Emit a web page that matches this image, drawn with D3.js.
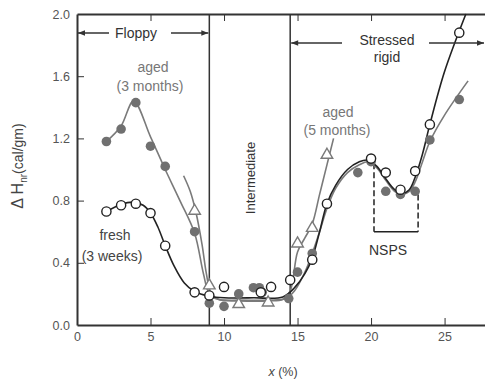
<!DOCTYPE html>
<html>
<head>
<meta charset="utf-8">
<script src="https://cdn.jsdelivr.net/npm/d3@7"></script>
<style>
  body { margin: 0; background: #fff; }
  svg { display: block; font-family: "Liberation Sans", Arial, sans-serif; }
  .axis path, .axis line { stroke: #333; }
  .axis text { fill: #555; font-size: 12.5px; font-family: "Liberation Sans", Arial, sans-serif; }
</style>
</head>
<body>
<svg width="485" height="381"></svg>
<script>
// measured points, [x %, dH cal/gm]
var freshPts = [[2,.73],[3,.77],[4,.78],[5,.72],[6,.51],[8,.21],[9,.19],[10,.245],[12.5,.21],[13.2,.245],
                [14.5,.29],[16,.42],[17,.78],[20,1.07],[21,.98],[22,.87],[23,.99],[24,1.29],[26,1.88]];
var aged3Pts = [[2,1.18],[3,1.26],[4,1.43],[5,1.15],[6,1.02],[8,.6],[9,.14],[10,.12],[11,.2],[12,.24],
                [12.4,.24],[12.6,.21],[14.4,.17],[15,.34],[16,.46],[17,.78],[19.1,.98],[20,1.05],[21,.86],
                [22,.84],[23,.86],[24,1.19],[26,1.45]];
var aged5Pts = [[8,.74],[9,.26],[11,.14],[13,.15],[15,.53],[16,.63],[17,1.1]];

// fitted guide curves
var freshCurve = [[2,.73],[3,.775],[3.8,.79],[4.5,.77],[5,.72],[5.5,.63],[6,.51],[6.6,.38],[7.3,.27],[8,.215],
                  [9,.185],[10,.175],[12,.175],[14,.18],[14.8,.24],[15.5,.33],[16,.43],[16.5,.6],[17,.78],
                  [17.6,.9],[18.4,1.0],[19.2,1.05],[19.8,1.06],[20.4,1.02],[21,.94],[21.6,.87],[22.1,.845],
                  [22.6,.87],[23,.95],[23.5,1.1],[24,1.29],[25,1.63],[26.45,2.0]];
var aged3Curve = [[2,1.18],[3,1.28],[3.85,1.44],[5,1.21],[6,1.0],[7,.8],[8,.59],[8.6,.33],[9,.2],[9.6,.165],
                  [11,.16],[13,.16],[14.2,.17],[14.8,.22],[15.5,.34],[16,.46],[16.5,.6],[17,.75],[17.6,.88],
                  [18.4,.98],[19.2,1.03],[19.8,1.05],[20.4,1.01],[21,.93],[21.6,.86],[22.1,.84],[22.6,.86],
                  [23,.92],[23.5,1.05],[24,1.18],[25,1.35],[26.6,1.57]];
var aged5Curve = [[7.25,.96],[7.7,.86],[8.1,.72],[8.5,.52],[8.8,.33],[9.1,.21],[9.6,.165],[11,.155],[13,.155],
                  [14,.165],[14.5,.22],[15,.47],[15.5,.56],[16,.65],[16.5,.84],[17,1.03],[17.45,1.2]];

var xTicks = [0, 5, 10, 15, 20, 25];
var yTicks = [0, 0.4, 0.8, 1.2, 1.6, 2.0];
var phaseBounds = [9, 14.5];   // floppy | intermediate | stressed rigid
var nspsBox = [20.2, 23.2];

var svg = d3.select('svg');
var black = '#222', gray = '#7a7a7a';

var xScale = d3.scaleLinear().domain([0, 27.75]).range([77, 485]);
var yScale = d3.scaleLinear().domain([0, 2]).range([325, 14]);

var line = d3.line()
    .x(d => xScale(d[0]))
    .y(d => yScale(d[1]))
    .curve(d3.curveCatmullRom.alpha(0.5));

// arrowhead marker
svg.append('defs').append('marker')
    .attr('id', 'arrow')
    .attr('viewBox', '0 0 10 10')
    .attr('refX', 10).attr('refY', 5)
    .attr('markerWidth', 12).attr('markerHeight', 7)
    .attr('markerUnits', 'userSpaceOnUse')
    .attr('orient', 'auto-start-reverse')
    .append('path')
    .attr('d', 'M0,1 L10,5 L0,9 z')
    .attr('fill', '#333');

// axes
svg.append('g').classed('axis', true)
    .attr('transform', `translate(0,${yScale(0)})`)
    .call(d3.axisBottom(xScale).tickValues(xTicks).tickSizeInner(-7).tickSizeOuter(0).tickPadding(7))
    .call(g => g.select('.domain').attr('stroke-width', 2));

svg.append('g').classed('axis', true)
    .attr('transform', `translate(0,${yScale(2)})`)
    .call(d3.axisTop(xScale).tickValues(xTicks.slice(1)).tickSizeInner(-7).tickSizeOuter(0).tickFormat(''))
    .call(g => g.select('.domain').attr('stroke-width', 2));

svg.append('g').classed('axis', true)
    .attr('transform', `translate(${xScale(0)},0)`)
    .call(d3.axisLeft(yScale).tickValues(yTicks).tickSizeInner(-7).tickSizeOuter(0).tickPadding(7).tickFormat(d3.format('.1f')))
    .call(g => g.select('.domain').attr('stroke-width', 2))
    .call(g => g.selectAll('.tick').filter(d => d == 0 || d == 2).select('line').remove());

// phase boundaries
phaseBounds.forEach(function(b){
    svg.append('line')
        .attr('x1', xScale(b)).attr('x2', xScale(b))
        .attr('y1', yScale(0)).attr('y2', yScale(2))
        .attr('stroke', '#333').attr('stroke-width', 1.5);
});

// NSPS bracket
var nspsG = svg.append('g').attr('stroke', '#222').attr('stroke-width', 1.5).attr('fill', 'none');
nspsG.append('line')
    .attr('x1', xScale(nspsBox[0])).attr('x2', xScale(nspsBox[0]))
    .attr('y1', yScale(1.04)).attr('y2', yScale(0.6))
    .attr('stroke-dasharray', '6,3');
nspsG.append('line')
    .attr('x1', xScale(nspsBox[1])).attr('x2', xScale(nspsBox[1]))
    .attr('y1', yScale(0.84)).attr('y2', yScale(0.6))
    .attr('stroke-dasharray', '6,3');
nspsG.append('line')
    .attr('x1', xScale(nspsBox[0])).attr('x2', xScale(nspsBox[1]))
    .attr('y1', yScale(0.6)).attr('y2', yScale(0.6));

// curves
[[aged3Curve, gray], [aged5Curve, gray], [freshCurve, black]].forEach(function(c){
    svg.append('path')
        .attr('d', line(c[0]))
        .attr('fill', 'none')
        .attr('stroke', c[1])
        .attr('stroke-width', 1.6);
});

// markers
var tri = d3.symbol().type(d3.symbolTriangle).size(58);
svg.append('g').selectAll('path').data(aged5Pts).join('path')
    .attr('d', tri)
    .attr('transform', d => `translate(${xScale(d[0])},${yScale(d[1]) + 1})`)
    .attr('fill', '#fff').attr('stroke', gray).attr('stroke-width', 1.4);

svg.append('g').selectAll('circle').data(aged3Pts).join('circle')
    .attr('cx', d => xScale(d[0])).attr('cy', d => yScale(d[1]))
    .attr('r', 4.8).attr('fill', '#707070');

svg.append('g').selectAll('circle').data(freshPts).join('circle')
    .attr('cx', d => xScale(d[0])).attr('cy', d => yScale(d[1]))
    .attr('r', 4.6).attr('fill', '#fff').attr('stroke', black).attr('stroke-width', 1.4);

// region arrows
function arrowSeg(x1, x2, y){
    svg.append('line')
        .attr('x1', x1).attr('x2', x2).attr('y1', y).attr('y2', y)
        .attr('stroke', '#333').attr('stroke-width', 1.5)
        .attr('marker-end', 'url(#arrow)');
}
arrowSeg(109, xScale(0) + 1, 33);
arrowSeg(171, xScale(phaseBounds[0]) - 1, 33);
arrowSeg(342, xScale(phaseBounds[1]) + 1, 43);
arrowSeg(429, 484, 43);

function label(txt, x, y, color, size){
    return svg.append('text')
        .attr('x', x).attr('y', y)
        .attr('text-anchor', 'middle')
        .attr('fill', color)
        .style('font-size', size + 'px')
        .text(txt);
}
label('Floppy', 136, 38, '#333', 14);
label('Stressed', 387, 45, '#333', 14);
label('rigid', 387, 62, '#333', 14);
label('aged', 153, 72, '#777', 14);
label('(3 months)', 150, 91, '#777', 14);
label('fresh', 115, 240, '#444', 14);
label('(3 weeks)', 112, 261, '#444', 14);
label('aged', 338, 117, '#777', 14);
label('(5 months)', 337, 135, '#777', 14);
label('NSPS', 388, 255, '#333', 14);

svg.append('text')
    .attr('transform', 'translate(255,178) rotate(-90)')
    .attr('text-anchor', 'middle')
    .attr('fill', '#333')
    .style('font-size', '13px')
    .text('Intermediate');

// axis titles
var yLab = svg.append('text')
    .attr('transform', 'translate(23,166) rotate(-90)')
    .attr('text-anchor', 'middle')
    .attr('fill', '#444');
yLab.append('tspan').style('font-size', '16px').text('Δ H');
yLab.append('tspan').style('font-size', '10px').attr('dy', 4).text('nr');
yLab.append('tspan').style('font-size', '14px').attr('dy', -4).text('(cal/gm)');

var xLab = svg.append('text')
    .attr('x', 283).attr('y', 376)
    .attr('text-anchor', 'middle')
    .attr('fill', '#444')
    .style('font-size', '12.5px');
xLab.append('tspan').style('font-style', 'italic').text('x');
xLab.append('tspan').text(' (%)');
</script>
</body>
</html>
